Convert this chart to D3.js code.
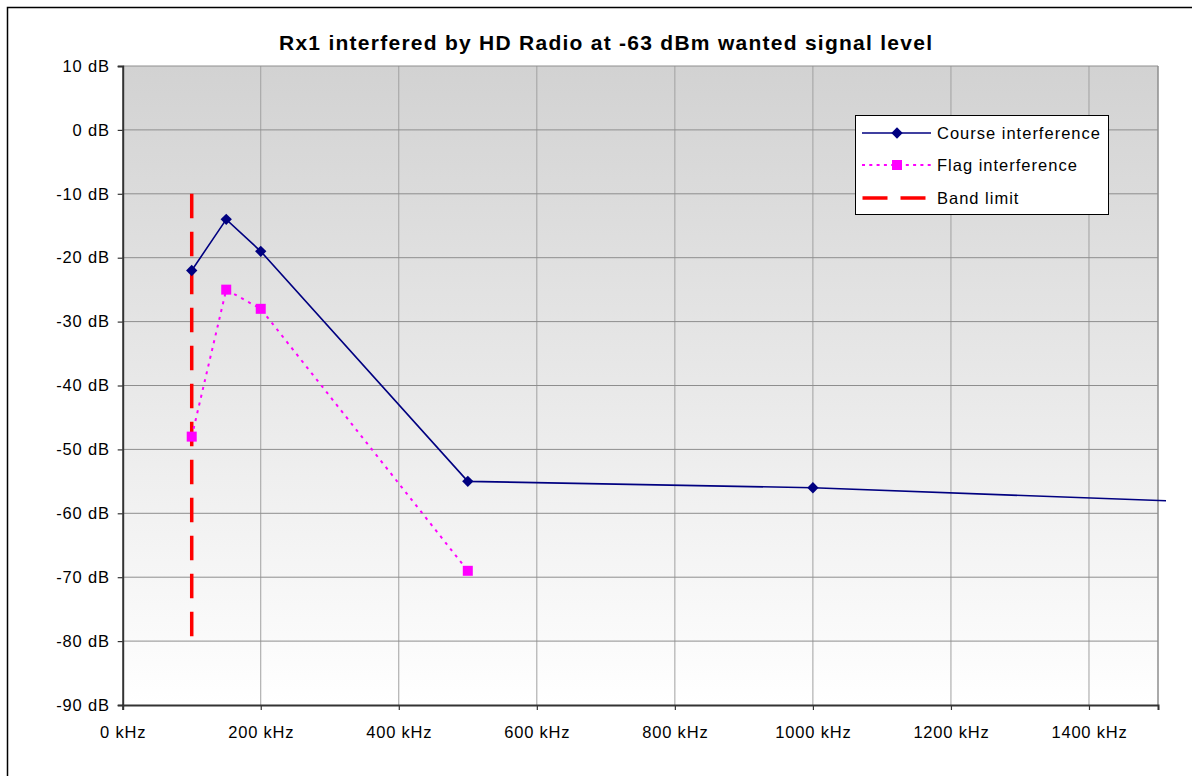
<!DOCTYPE html>
<html><head><meta charset="utf-8">
<script src="https://cdn.jsdelivr.net/npm/d3@7"></script>
<style>
body{margin:0;background:#fff}
svg text{font-family:"Liberation Sans",Arial,sans-serif}
</style>
</head><body>
<svg id="chart" width="1192" height="776"></svg>
<script>
const chartTitle = "Rx1 interfered by HD Radio at -63 dBm wanted signal level";
const seriesNames = ["Course interference", "Flag interference", "Band limit"];
const courseFreq = [100, 150, 200, 500, 1000, 2000];
const courseDb = [-22, -14, -19, -55, -56, -60];
const flagFreq = [100, 150, 200, 500];
const flagDb = [-48, -25, -28, -69];
const bandFreq = [100, 100];
const bandDb = [-10, -80];
const xTicks = [0, 200, 400, 600, 800, 1000, 1200, 1400];
const yTicks = [10, 0, -10, -20, -30, -40, -50, -60, -70, -80, -90];
const xDomain = [0, 1500];
const yDomain = [-90, 10];

const svg = d3.select("#chart");
const L = 122.7, R = 1158, T = 66, B = 705;
const x = d3.scaleLinear().domain(xDomain).range([L, R]);
const y = d3.scaleLinear().domain(yDomain).range([B, T]);

// chart area border
svg.append("rect").attr("x", 7.5).attr("y", 7.5).attr("width", 1200).attr("height", 800)
  .attr("fill", "#fff").attr("stroke", "#000").attr("stroke-width", 1.5);

const defs = svg.append("defs");
const grad = defs.append("linearGradient").attr("id", "bg").attr("x1", 0).attr("y1", 0).attr("x2", 0).attr("y2", 1);
grad.append("stop").attr("offset", "0%").attr("stop-color", "#d2d2d2");
grad.append("stop").attr("offset", "100%").attr("stop-color", "#ffffff");
defs.append("clipPath").attr("id", "clip").append("rect")
  .attr("x", 0).attr("y", 0).attr("width", R + 8).attr("height", 776);

svg.append("rect").attr("x", L).attr("y", T).attr("width", R - L).attr("height", B - T)
  .attr("fill", "url(#bg)");

// gridlines
svg.append("g").selectAll("line").data(xTicks.filter(d => d > 0)).join("line")
  .attr("x1", d => x(d)).attr("x2", d => x(d)).attr("y1", T).attr("y2", B)
  .attr("stroke", "#a0a0a0").attr("stroke-width", 1);
svg.append("g").selectAll("line").data(yTicks.filter(d => d > -90)).join("line")
  .attr("x1", L).attr("x2", R).attr("y1", d => y(d)).attr("y2", d => y(d))
  .attr("stroke", "#8e8e8e").attr("stroke-width", 1);
// right border of plot area
svg.append("line").attr("x1", R).attr("x2", R).attr("y1", T).attr("y2", B)
  .attr("stroke", "#8e8e8e").attr("stroke-width", 1.5);

// axes
const yAxis = svg.append("g").attr("transform", `translate(${L},0)`)
  .call(d3.axisLeft(y).tickValues(yTicks).tickFormat(d => d + " dB").tickSizeOuter(0).tickSize(5).tickPadding(8));
const xAxis = svg.append("g").attr("transform", `translate(0,${B})`)
  .call(d3.axisBottom(x).tickValues(xTicks).tickFormat(d => d + " kHz").tickSizeOuter(0).tickSize(5).tickPadding(16));
[yAxis, xAxis].forEach(a => {
  a.select(".domain").attr("stroke", "#333").attr("stroke-width", 2);
  a.selectAll(".tick line").attr("stroke", "#333").attr("stroke-width", 1.2);
  a.selectAll("text").attr("fill", "#000").style("font-size", "16.5px").style("letter-spacing", "0.8px")
    .style("font-family", "'Liberation Sans', Arial, sans-serif");
});

// title
svg.append("text").attr("x", 605.5).attr("y", 50).attr("text-anchor", "middle")
  .style("font-size", "21px").style("font-weight", "bold")
  .attr("textLength", 653).attr("lengthAdjust", "spacing")
  .text(chartTitle);

const plot = svg.append("g").attr("clip-path", "url(#clip)");
const line = d3.line().x(d => x(d[0])).y(d => y(d[1]));

// band limit
const band = bandFreq.map((f, i) => [f, bandDb[i]]);
plot.append("path").attr("d", line(band)).attr("fill", "none")
  .attr("stroke", "#ff0000").attr("stroke-width", 3.5).attr("stroke-dasharray", "24.5,13.5");

// flag
const flag = flagFreq.map((f, i) => [f, flagDb[i]]);
plot.append("path").attr("d", line(flag)).attr("fill", "none")
  .attr("stroke", "#ff00ff").attr("stroke-width", 2).attr("stroke-dasharray", "3,5");

// course
const course = courseFreq.map((f, i) => [f, courseDb[i]]);
plot.append("path").attr("d", line(course)).attr("fill", "none")
  .attr("stroke", "#000080").attr("stroke-width", 1.6);

const diamond = d3.symbol().type(d3.symbolSquare).size(64);
const square = d3.symbol().type(d3.symbolSquare).size(100);

plot.append("g").selectAll("path").data(flag.filter(d => d[0] <= xDomain[1])).join("path")
  .attr("d", square).attr("transform", d => `translate(${x(d[0])},${y(d[1])})`)
  .attr("fill", "#ff00ff");
plot.append("g").selectAll("path").data(course.filter(d => d[0] <= xDomain[1])).join("path")
  .attr("d", diamond).attr("transform", d => `translate(${x(d[0])},${y(d[1])}) rotate(45)`)
  .attr("fill", "#000080");

// legend
const lg = svg.append("g");
lg.append("rect").attr("x", 855.5).attr("y", 115.5).attr("width", 253).attr("height", 99)
  .attr("fill", "#fff").attr("stroke", "#000").attr("stroke-width", 1);
const rowsY = [133, 165, 198];
const lx1 = 862, lx2 = 931, lmx = 897;
lg.append("line").attr("x1", lx1).attr("x2", lx2).attr("y1", rowsY[0]).attr("y2", rowsY[0])
  .attr("stroke", "#000080").attr("stroke-width", 1.6);
lg.append("path").attr("d", diamond).attr("transform", `translate(${lmx},${rowsY[0]}) rotate(45)`).attr("fill", "#000080");
lg.append("line").attr("x1", lx1).attr("x2", lx2).attr("y1", rowsY[1]).attr("y2", rowsY[1])
  .attr("stroke", "#ff00ff").attr("stroke-width", 2).attr("stroke-dasharray", "3,4.3");
lg.append("path").attr("d", square).attr("transform", `translate(${lmx},${rowsY[1]})`).attr("fill", "#ff00ff");
lg.append("line").attr("x1", lx1 + 0.5).attr("x2", lx2).attr("y1", rowsY[2]).attr("y2", rowsY[2])
  .attr("stroke", "#ff0000").attr("stroke-width", 3.5).attr("stroke-dasharray", "25,13");
lg.selectAll("text.lab").data(seriesNames).join("text").attr("class", "lab")
  .attr("x", 937).attr("y", (d, i) => rowsY[i] + 6)
  .style("font-size", "16.5px").style("letter-spacing", "1px").text(d => d);
</script>
</body></html>
